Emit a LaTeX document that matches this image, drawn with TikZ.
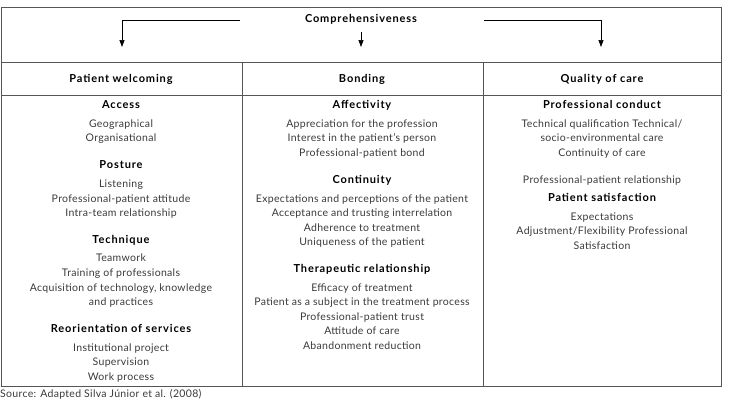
\documentclass[tikz,border=0pt]{standalone}
\usepackage{fontspec}
\setmainfont{Lato}
\usetikzlibrary{arrows.meta}
\definecolor{txt}{HTML}{3A3A3A}
\definecolor{rule}{HTML}{555555}
\newfontfamily\itemfont[LetterSpace=3]{Lato}
\newfontfamily\headfont[LetterSpace=8]{Lato Bold}
\tikzset{
  item/.style={anchor=base, inner sep=0pt, text=txt, font=\itemfont\fontsize{10.5pt}{12pt}\selectfont},
  head/.style={anchor=base, inner sep=0pt, text=black, font=\headfont\fontsize{11pt}{12pt}\selectfont},
  frame/.style={draw=rule, line width=0.9pt},
  arr/.style={draw=black, line width=0.7pt, -{Triangle[length=7pt,width=5pt]}}
}
\begin{document}
\begin{tikzpicture}[x=1pt,y=-1pt]
\useasboundingbox (0,0) rectangle (729,402);
% frame
\draw[frame] (1,7) rectangle (721,386);
\draw[frame] (1,62) -- (721,62);
\draw[frame] (1,95) -- (721,95);
\draw[frame] (242,62) -- (242,386);
\draw[frame] (483,62) -- (483,386);
% top
\node[head] (comp) at (361,22.5) {Comprehensiveness};
\coordinate (l1) at (240,20);
\coordinate (t1) at (122,47);
\coordinate (l3) at (484,20);
\coordinate (t3) at (601,47);
\coordinate (m2) at (361,32);
\coordinate (t2) at (361,47);
\draw[arr] (l1) -| (t1);
\draw[arr] (l3) -| (t3);
\draw[arr] (m2) -- (t2);
% headers
\node[head] (h1) at (121,82.5) {Patient welcoming};
\node[head] (h2) at (362,82.5) {Bonding};
\node[head] (h3) at (602,82.5) {Quality of care};
% column 1
\node[head] (a0) at (121,108.5) {Access};
\node[item] (a1) at (121,127.5) {Geographical};
\node[item] (a2) at (121,141.5) {Organisational};
\node[head] (b0) at (121,168.5) {Posture};
\node[item] (b1) at (121,187.5) {Listening};
\node[item] (b2) at (121,202.5) {Professional-patient attitude};
\node[item] (b3) at (121,216.5) {Intra-team relationship};
\node[head] (c0) at (121,243.5) {Technique};
\node[item] (c1) at (121,261.5) {Teamwork};
\node[item] (c2) at (121,276.5) {Training of professionals};
\node[item] (c3) at (121,291.5) {Acquisition of technology, knowledge};
\node[item] (c4) at (121,305.5) {and practices};
\node[head] (d0) at (121,332.5) {Reorientation of services};
\node[item] (d1) at (121,351.5) {Institutional project};
\node[item] (d2) at (121,365.5) {Supervision};
\node[item] (d3) at (121,380.5) {Work process};
% column 2
\node[head] (e0) at (362,108.5) {Affectivity};
\node[item] (e1) at (362,127.5) {Appreciation for the profession};
\node[item] (e2) at (362,141.5) {Interest in the patient’s person};
\node[item] (e3) at (362,156.5) {Professional-patient bond};
\node[head] (f0) at (362,183.5) {Continuity};
\node[item] (f1) at (362,202.5) {Expectations and perceptions of the patient};
\node[item] (f2) at (362,216.5) {Acceptance and trusting interrelation};
\node[item] (f3) at (362,231.5) {Adherence to treatment};
\node[item] (f4) at (362,245.5) {Uniqueness of the patient};
\node[head] (g0) at (362,272.5) {Therapeutic relationship};
\node[item] (g1) at (362,291.5) {Efficacy of treatment};
\node[item] (g2) at (362,305.5) {Patient as a subject in the treatment process};
\node[item] (g3) at (362,320.5) {Professional-patient trust};
\node[item] (g4) at (362,334.5) {Attitude of care};
\node[item] (g5) at (362,349.5) {Abandonment reduction};
% column 3
\node[head] (p0) at (602,108.5) {Professional conduct};
\node[item] (p1) at (602,127.5) {Technical qualification Technical/};
\node[item] (p2) at (602,141.5) {socio-environmental care};
\node[item] (p3) at (602,156.5) {Continuity of care};
\node[item] (p4) at (602,183.5) {Professional-patient relationship};
\node[head] (q0) at (602,201.5) {Patient satisfaction};
\node[item] (q1) at (602,220.5) {Expectations};
\node[item] (q2) at (602,234.5) {Adjustment/Flexibility Professional};
\node[item] (q3) at (602,249.5) {Satisfaction};
% source
\node[item, anchor=base west] (src) at (0,397.5) {Source: Adapted Silva Júnior et al. (2008)};
\end{tikzpicture}
\end{document}
